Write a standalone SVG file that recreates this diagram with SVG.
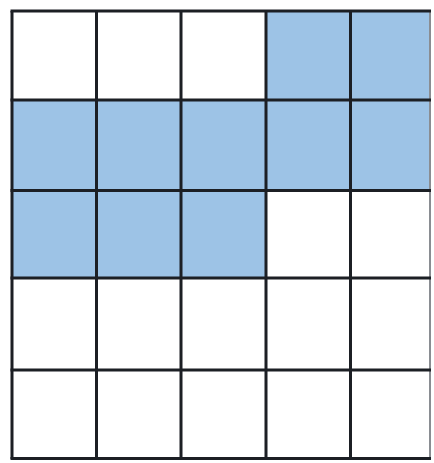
<svg xmlns="http://www.w3.org/2000/svg" width="434" height="463" viewBox="0 0 434 463">
<style>
.b{fill:#9dc3e6}
.g line{stroke:#1c1f24;stroke-width:3}
</style>
<rect width="434" height="463" fill="#fff"/>
<g id="cells">
<rect class="b" x="266" y="11" width="164" height="89"/>
<rect class="b" x="12" y="100" width="418" height="90.5"/>
<rect class="b" x="12" y="190.5" width="254" height="87.5"/>
</g>
<g id="grid" class="g">
<line x1="12" y1="11" x2="12" y2="459"/>
<line x1="96.5" y1="11" x2="96.5" y2="459"/>
<line x1="181" y1="11" x2="181" y2="459"/>
<line x1="266" y1="11" x2="266" y2="459"/>
<line x1="350.5" y1="11" x2="350.5" y2="459"/>
<line x1="430" y1="11" x2="430" y2="459" style="stroke:#8a8d92;stroke-width:2"/>
<line x1="10.5" y1="11" x2="431" y2="11"/>
<line x1="10.5" y1="100" x2="431" y2="100"/>
<line x1="10.5" y1="190.5" x2="431" y2="190.5"/>
<line x1="10.5" y1="278" x2="431" y2="278"/>
<line x1="10.5" y1="370" x2="431" y2="370"/>
<line x1="10.5" y1="458.5" x2="431" y2="458.5"/>
</g>
</svg>
